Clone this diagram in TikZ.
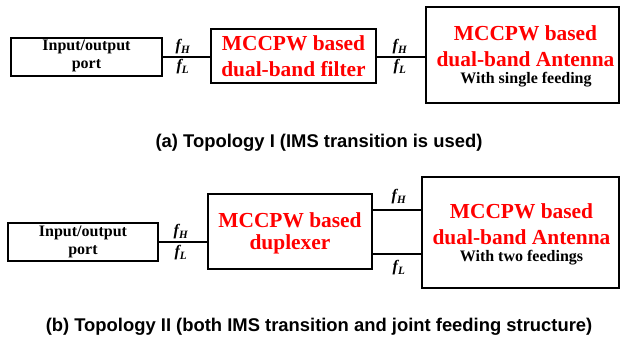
\documentclass[tikz,border=0pt]{standalone}
\usepackage{fontspec}
\setmainfont{Liberation Serif}
\newfontfamily\capfont{Liberation Sans}
\begin{document}
\begin{tikzpicture}[x=1pt,y=-1pt,
  box/.style={draw, line width=1.6pt, inner sep=0pt},
  wire/.style={line width=1.6pt},
  redtxt/.style={text=red, inner sep=0pt, font=\fontsize{21.4}{24}\selectfont\bfseries},
  blktxt/.style={text=black, inner sep=0pt, font=\fontsize{16}{18}\selectfont\bfseries},
  flab/.style={inner sep=0pt, font=\fontsize{16}{18}\selectfont\bfseries\itshape},
  captxt/.style={inner sep=0pt, font=\capfont\bfseries\fontsize{18.4}{21}\selectfont}]
\useasboundingbox (0,0) rectangle (620,344);
% ---- Topology I ----
\node[box, minimum width=151pt, minimum height=38pt] (inp1) at (86.5,57) {};
\node[blktxt] (inp1a) at (86.5,47) {Input/output};
\node[blktxt] (inp1b) at (86.5,66) {port};
\node[box, minimum width=165pt, minimum height=54pt] (filt) at (293.5,56) {};
\node[redtxt] (filta) at (293.5,43) {MCCPW based};
\node[redtxt] (filtb) at (293.5,69) {dual-band filter};
\node[box, minimum width=193pt, minimum height=96pt] (ant1) at (522.5,55) {};
\node[redtxt] (ant1a) at (525.5,33) {MCCPW based};
\node[redtxt] (ant1b) at (525.5,59) {dual-band Antenna};
\node[blktxt] (ant1c) at (526,80) {With single feeding};
\coordinate (y1) at (0,57);
\draw[wire] (inp1.east |- y1) -- (filt.west |- y1);
\draw[wire] (filt.east |- y1) -- (ant1.west |- y1);
\node[flab] (fh1) at (183,47) {f\textsubscript{H}};
\node[flab] (fl1) at (183,67) {f\textsubscript{L}};
\node[flab] (fh2) at (400,47) {f\textsubscript{H}};
\node[flab] (fl2) at (400,67) {f\textsubscript{L}};
\node[captxt] (capa) at (319,143) {(a) Topology I (IMS transition is used)};
% ---- Topology II ----
\node[box, minimum width=150pt, minimum height=38pt] (inp2) at (83,242) {};
\node[blktxt] (inp2a) at (83,233) {Input/output};
\node[blktxt] (inp2b) at (83,252) {port};
\node[box, minimum width=164pt, minimum height=75pt] (dup) at (290,231.5) {};
\node[redtxt] (dupa) at (290,220) {MCCPW based};
\node[redtxt] (dupb) at (290,244) {duplexer};
\node[box, minimum width=197pt, minimum height=111pt] (ant2) at (520.5,232.5) {};
\node[redtxt] (ant2a) at (521.5,211) {MCCPW based};
\node[redtxt] (ant2b) at (521.5,237) {dual-band Antenna};
\node[blktxt] (ant2c) at (521.5,258) {With two feedings};
\coordinate (y2) at (0,242);
\coordinate (y3) at (0,210);
\coordinate (y4) at (0,254);
\draw[wire] (inp2.east |- y2) -- (dup.west |- y2);
\draw[wire] (dup.east |- y3) -- (ant2.west |- y3);
\draw[wire] (dup.east |- y4) -- (ant2.west |- y4);
\node[flab] (fh3) at (181,232) {f\textsubscript{H}};
\node[flab] (fl3) at (181,253) {f\textsubscript{L}};
\node[flab] (fh4) at (399,197) {f\textsubscript{H}};
\node[flab] (fl4) at (399,268) {f\textsubscript{L}};
\node[captxt] (capb) at (319,327) {(b) Topology II (both IMS transition and joint feeding structure)};
\end{tikzpicture}
\end{document}
